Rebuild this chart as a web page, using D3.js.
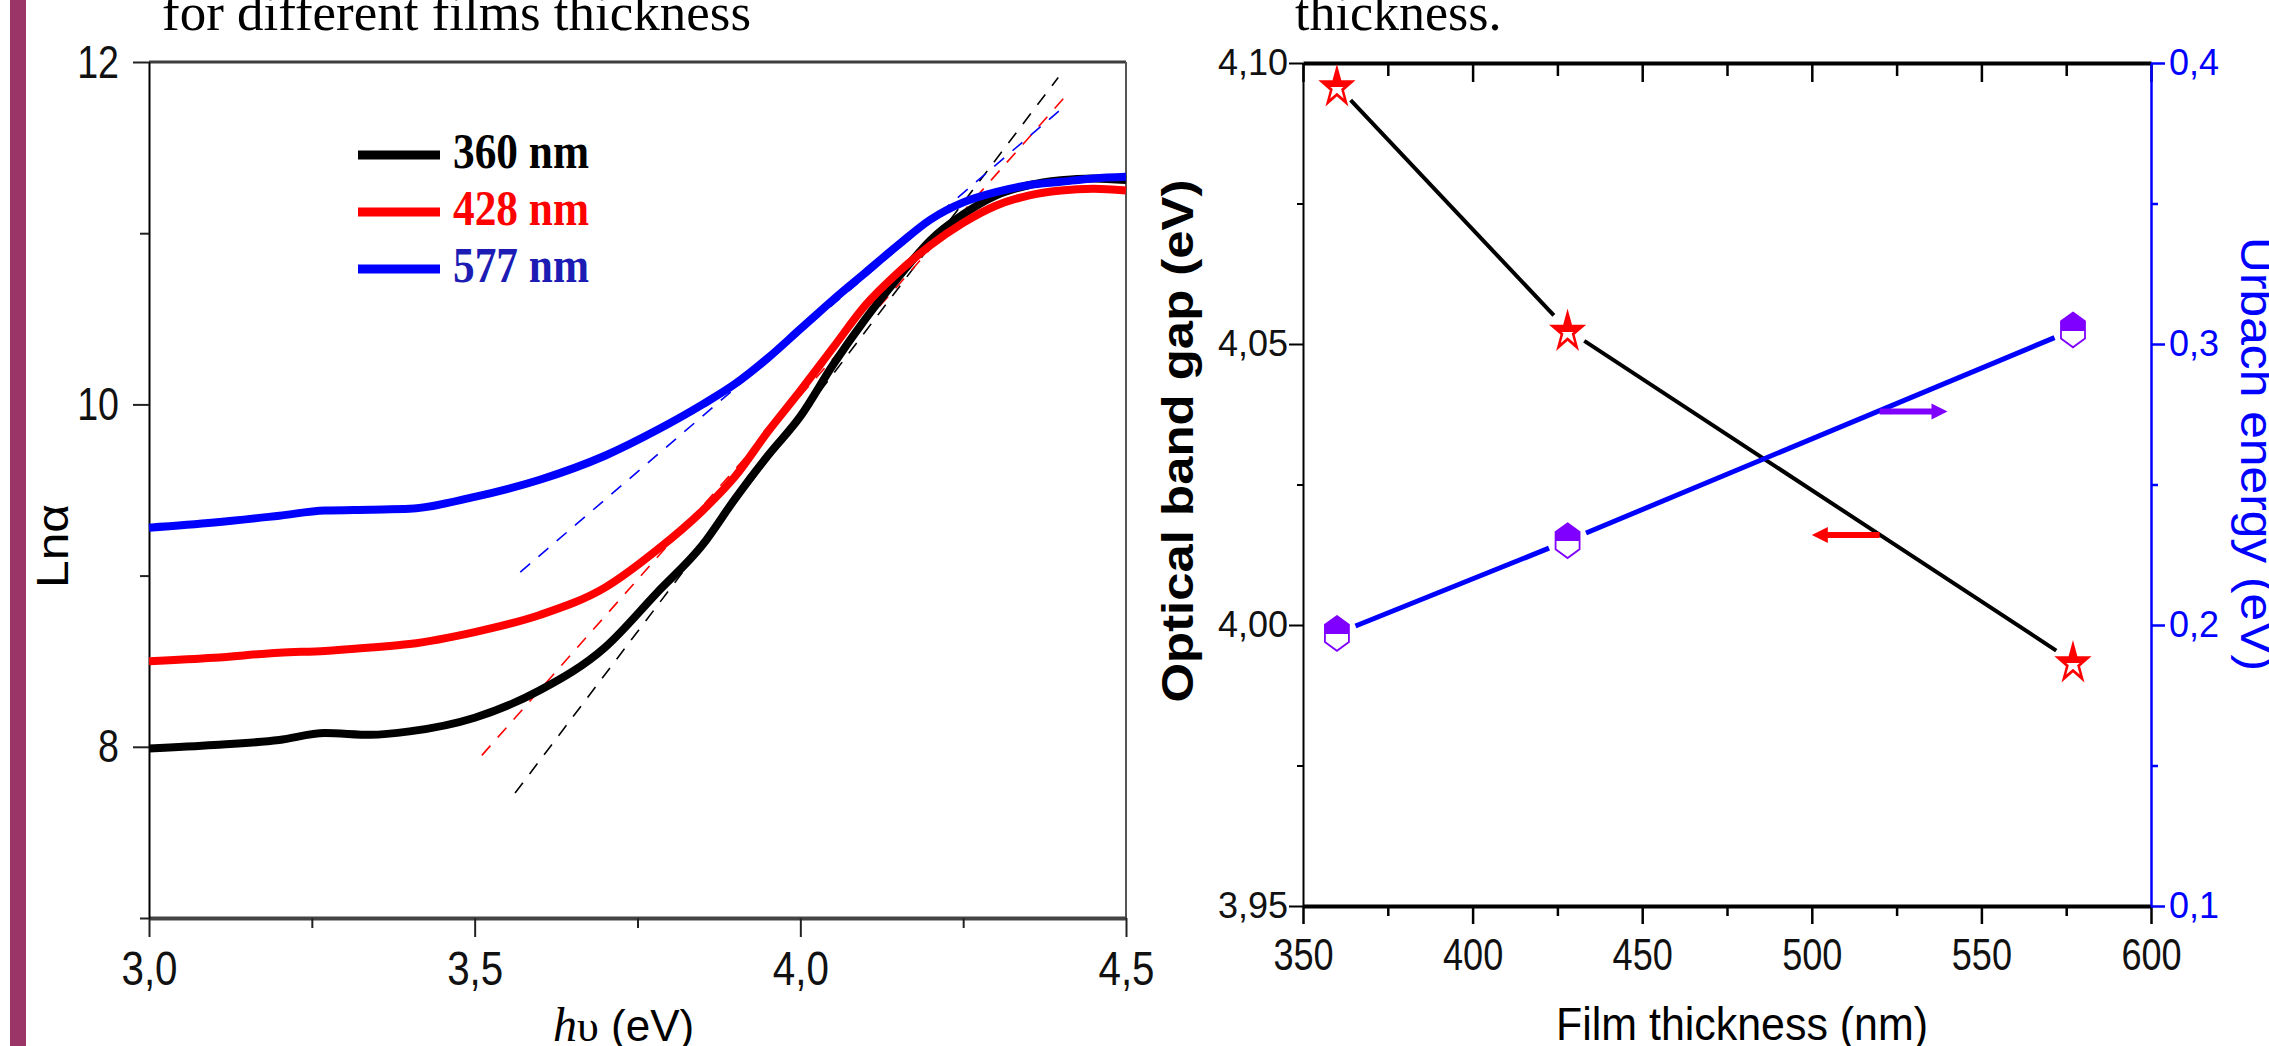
<!DOCTYPE html>
<html>
<head>
<meta charset="utf-8">
<script src="https://cdn.jsdelivr.net/npm/d3@7"></script>
<style>
  html, body { margin: 0; padding: 0; background: #ffffff; overflow: hidden; }
  svg { display: block; }
</style>
</head>
<body>
<svg id="fig" width="2269" height="1046"></svg>
<script>
// ---- Absorption edge: ln(alpha) against photon energy for three film thicknesses ----
const photonEnergy = [3.00, 3.10, 3.20, 3.27, 3.34, 3.40, 3.50, 3.60, 3.70, 3.78, 3.85, 3.90,
                      3.95, 4.00, 4.05, 4.10, 4.15, 4.20, 4.25, 4.30, 4.35, 4.40, 4.45, 4.50];
const lnAlpha360 = [7.99, 8.01, 8.04, 8.08, 8.07, 8.09, 8.17, 8.33, 8.58, 8.90, 9.18, 9.45,
                    9.70, 9.93, 10.23, 10.50, 10.74, 10.96, 11.11, 11.22, 11.28, 11.31, 11.32, 11.31];
const lnAlpha428 = [8.50, 8.52, 8.55, 8.56, 8.58, 8.60, 8.67, 8.77, 8.93, 9.15, 9.38, 9.58,
                    9.84, 10.08, 10.33, 10.58, 10.77, 10.93, 11.06, 11.16, 11.22, 11.25, 11.26, 11.25];
const lnAlpha577 = [9.28, 9.31, 9.35, 9.38, 9.385, 9.39, 9.46, 9.56, 9.70, 9.85, 10.00, 10.12,
                    10.27, 10.44, 10.61, 10.77, 10.93, 11.08, 11.18, 11.24, 11.28, 11.30, 11.32, 11.33];

// Linear fits of the Urbach tail (end points: energy, ln alpha)
const fit360 = [[3.562, 7.73], [4.396, 11.91]];
const fit428 = [[3.511, 7.95], [4.414, 11.83]];
const fit577 = [[3.570, 9.02], [4.402, 11.73]];

const legendLabels = ["360 nm", "428 nm", "577 nm"];
const energyTicks = [3.0, 3.5, 4.0, 4.5];
const energyMinorTicks = [3.25, 3.75, 4.25];
const lnTicks = [8, 10, 12];
const lnMinorTicks = [7, 9, 11];

// ---- Band gap and Urbach energy against film thickness ----
const thickness = [360, 428, 577];
const bandGap = [4.096, 4.0525, 3.9935];
const urbachEnergy = [0.197, 0.230, 0.305];
const thicknessTicks = [350, 400, 450, 500, 550, 600];
const thicknessMinorTicks = [375, 425, 475, 525, 575];
const gapTicks = [3.95, 4.00, 4.05, 4.10];
const gapMinorTicks = [3.975, 4.025, 4.075];
const urbachTicks = [0.1, 0.2, 0.3, 0.4];
const urbachMinorTicks = [0.15, 0.25, 0.35];

// Axis pointers: [from, to] thickness and the level they sit on
const gapArrowX = [520, 500];
const gapArrowLevel = 4.016;
const urbachArrowX = [520, 540];
const urbachArrowLevel = 0.276;

const comma = f => v => d3.format(f)(v).replace(".", ",");

// squeeze a text selection horizontally to a narrow face
function condense(sel, k) {
  sel.each(function () {
    const w = this.getComputedTextLength();
    d3.select(this).attr("textLength", w * k).attr("lengthAdjust", "spacingAndGlyphs");
  });
}

const svg = d3.select("#fig");
const defs = svg.append("defs");

// Side accent bar
svg.append("rect").attr("x", 10).attr("y", 0).attr("width", 16).attr("height", 1046)
  .attr("fill", "#9b3467");

// Caption fragments above the panels
svg.append("text").attr("x", 162).attr("y", 30)
  .attr("font-family", "'Liberation Serif', 'Times New Roman', serif").attr("font-size", 52)
  .attr("textLength", 589).attr("lengthAdjust", "spacingAndGlyphs")
  .text("for different films thickness");
svg.append("text").attr("x", 1295).attr("y", 30)
  .attr("font-family", "'Liberation Serif', 'Times New Roman', serif").attr("font-size", 52)
  .text("thickness.");

// =================== Left panel ===================
const x1 = d3.scaleLinear().domain([3, 4.5]).range([149, 1126]);
const y1 = d3.scaleLinear().domain([7, 12]).range([918, 62]);
const left = svg.append("g");

// frame: top and right edges
left.append("line").attr("x1", 149).attr("x2", 1126).attr("y1", y1(12)).attr("y2", y1(12))
  .attr("stroke", "#3d3d3d").attr("stroke-width", 3);
left.append("line").attr("x1", x1(4.5)).attr("x2", x1(4.5)).attr("y1", y1(12)).attr("y2", y1(7))
  .attr("stroke", "#555").attr("stroke-width", 2);

const sans = "'Liberation Sans', Arial, sans-serif";

// bottom axis
const xb = left.append("g").attr("transform", `translate(0,${y1(7)})`)
  .call(d3.axisBottom(x1).tickValues(energyTicks).tickSize(19).tickSizeOuter(0)
    .tickPadding(14).tickFormat(comma(".1f")));
xb.select(".domain").attr("stroke", "#444").attr("stroke-width", 4);
xb.selectAll(".tick line").attr("stroke", "#222").attr("stroke-width", 2);
xb.selectAll("text").attr("font-family", sans).attr("font-size", 48).attr("fill", "#111")
  .call(condense, 0.84);
const xbm = left.append("g").attr("transform", `translate(0,${y1(7)})`)
  .call(d3.axisBottom(x1).tickValues(energyMinorTicks).tickSize(10).tickSizeOuter(0).tickFormat(""));
xbm.select(".domain").remove();
xbm.selectAll(".tick line").attr("stroke", "#222").attr("stroke-width", 2);

// left axis
const yl = left.append("g").attr("transform", `translate(${x1(3)},0)`)
  .call(d3.axisLeft(y1).tickValues(lnTicks).tickSize(16).tickSizeOuter(0).tickPadding(14)
    .tickFormat(d3.format("d")));
yl.select(".domain").attr("stroke", "#000").attr("stroke-width", 2);
yl.selectAll(".tick line").attr("stroke", "#222").attr("stroke-width", 2);
yl.selectAll("text").attr("font-family", sans).attr("font-size", 47).attr("fill", "#111")
  .call(condense, 0.8);
const ylm = left.append("g").attr("transform", `translate(${x1(3)},0)`)
  .call(d3.axisLeft(y1).tickValues(lnMinorTicks).tickSize(9).tickSizeOuter(0).tickFormat(""));
ylm.select(".domain").remove();
ylm.selectAll(".tick line").attr("stroke", "#222").attr("stroke-width", 2);

// axis titles
left.append("text").attr("transform", "translate(68,546) rotate(-90)")
  .attr("text-anchor", "middle").attr("font-family", sans).attr("font-size", 44)
  .attr("textLength", 84).attr("lengthAdjust", "spacingAndGlyphs").text("Lnα");
const hvTitle = left.append("text").attr("x", 553).attr("y", 1041)
  .attr("font-family", sans).attr("font-size", 44);
hvTitle.append("tspan").attr("font-family", "'Liberation Serif', serif").attr("font-style", "italic")
  .attr("font-size", 48).text("h");
hvTitle.append("tspan").attr("font-family", "'Liberation Serif', serif").attr("font-size", 44).text("υ");
hvTitle.append("tspan").text(" (eV)");

// fit lines
const fitLine = d3.line().x(d => x1(d[0])).y(d => y1(d[1]));
[[fit360, "#000"], [fit428, "#ff0000"], [fit577, "#0000ff"]].forEach(([pts, c]) => {
  left.append("path").attr("d", fitLine(pts)).attr("fill", "none").attr("stroke", c)
    .attr("stroke-width", 1.6).attr("stroke-dasharray", "13,11");
});

// measured curves
const curve = d3.line().x(d => x1(d[0])).y(d => y1(d[1])).curve(d3.curveMonotoneX);
const seriesCurves = [
  [lnAlpha360, "#000000"],
  [lnAlpha428, "#ff0000"],
  [lnAlpha577, "#0000ff"]
];
seriesCurves.forEach(([vals, c]) => {
  left.append("path").attr("d", curve(photonEnergy.map((e, i) => [e, vals[i]])))
    .attr("fill", "none").attr("stroke", c).attr("stroke-width", 8).attr("stroke-linejoin", "round");
});

// legend
const legendColors = ["#000000", "#ff0000", "#0000ff"];
const legendTextColors = ["#000000", "#ff0000", "#1c1cb4"];
legendLabels.forEach((lab, i) => {
  const cy = 155 + i * 57;
  left.append("line").attr("x1", 358).attr("x2", 440).attr("y1", cy).attr("y2", cy)
    .attr("stroke", legendColors[i]).attr("stroke-width", 9);
  left.append("text").attr("x", 453).attr("y", cy + 13)
    .attr("font-family", "'Liberation Serif', 'Times New Roman', serif").attr("font-weight", "bold")
    .attr("font-size", 50).attr("textLength", 136).attr("lengthAdjust", "spacingAndGlyphs")
    .attr("fill", legendTextColors[i]).text(lab);
});

// =================== Right panel ===================
const x2 = d3.scaleLinear().domain([350, 600]).range([1303, 2151]);
const yL = d3.scaleLinear().domain([3.95, 4.10]).range([906, 63]);
const yR = d3.scaleLinear().domain([0.1, 0.4]).range([906, 63]);
const right = svg.append("g");

// top axis (ticks pointing into the plot)
const xt = right.append("g").attr("transform", `translate(0,${yL(4.10)})`)
  .call(d3.axisTop(x2).tickValues(thicknessTicks).tickSize(-19).tickSizeOuter(0).tickFormat(""));
xt.select(".domain").attr("stroke", "#000").attr("stroke-width", 4);
xt.selectAll(".tick line").attr("stroke", "#000").attr("stroke-width", 2.5);
const xtm = right.append("g").attr("transform", `translate(0,${yL(4.10)})`)
  .call(d3.axisTop(x2).tickValues(thicknessMinorTicks).tickSize(-13).tickSizeOuter(0).tickFormat(""));
xtm.select(".domain").remove();
xtm.selectAll(".tick line").attr("stroke", "#000").attr("stroke-width", 2.5);

// bottom axis
const xb2 = right.append("g").attr("transform", `translate(0,${yL(3.95)})`)
  .call(d3.axisBottom(x2).tickValues(thicknessTicks).tickSize(18).tickSizeOuter(0)
    .tickPadding(15).tickFormat(d3.format("d")));
xb2.select(".domain").attr("stroke", "#000").attr("stroke-width", 4);
xb2.selectAll(".tick line").attr("stroke", "#000").attr("stroke-width", 2.5);
xb2.selectAll("text").attr("font-family", sans).attr("font-size", 44).attr("fill", "#111")
  .call(condense, 0.82);
const xb2m = right.append("g").attr("transform", `translate(0,${yL(3.95)})`)
  .call(d3.axisBottom(x2).tickValues(thicknessMinorTicks).tickSize(10).tickSizeOuter(0).tickFormat(""));
xb2m.select(".domain").remove();
xb2m.selectAll(".tick line").attr("stroke", "#000").attr("stroke-width", 2.5);

// left axis: band gap
const yla = right.append("g").attr("transform", `translate(${x2(350)},0)`)
  .call(d3.axisLeft(yL).tickValues(gapTicks).tickSize(14).tickSizeOuter(0).tickPadding(1)
    .tickFormat(comma(".2f")));
yla.select(".domain").attr("stroke", "#000").attr("stroke-width", 2);
yla.selectAll(".tick line").attr("stroke", "#000").attr("stroke-width", 2);
yla.selectAll("text").attr("font-family", sans).attr("font-size", 36).attr("fill", "#111");
const ylam = right.append("g").attr("transform", `translate(${x2(350)},0)`)
  .call(d3.axisLeft(yL).tickValues(gapMinorTicks).tickSize(6).tickSizeOuter(0).tickFormat(""));
ylam.select(".domain").remove();
ylam.selectAll(".tick line").attr("stroke", "#000").attr("stroke-width", 2);

// right axis: Urbach energy
const yra = right.append("g").attr("transform", `translate(${x2(600)},0)`)
  .call(d3.axisRight(yR).tickValues(urbachTicks).tickSize(14).tickSizeOuter(0).tickPadding(4)
    .tickFormat(comma(".1f")));
yra.select(".domain").attr("stroke", "#0000ff").attr("stroke-width", 2.5);
yra.selectAll(".tick line").attr("stroke", "#0000ff").attr("stroke-width", 2.5);
yra.selectAll("text").attr("font-family", sans).attr("font-size", 36).attr("fill", "#0000ff");
const yram = right.append("g").attr("transform", `translate(${x2(600)},0)`)
  .call(d3.axisRight(yR).tickValues(urbachMinorTicks).tickSize(7).tickSizeOuter(0).tickFormat(""));
yram.select(".domain").remove();
yram.selectAll(".tick line").attr("stroke", "#0000ff").attr("stroke-width", 2.5);

// axis titles
right.append("text").attr("transform", "translate(1193,441) rotate(-90)")
  .attr("text-anchor", "middle").attr("font-family", sans).attr("font-weight", "bold")
  .attr("font-size", 44).attr("textLength", 523).attr("lengthAdjust", "spacingAndGlyphs")
  .text("Optical band gap (eV)");
right.append("text").attr("transform", "translate(2241,454) rotate(90)")
  .attr("text-anchor", "middle").attr("font-family", sans).attr("font-size", 46)
  .attr("fill", "#0000ff").attr("textLength", 434).attr("lengthAdjust", "spacingAndGlyphs")
  .text("Urbach energy (eV)");
right.append("text").attr("x", 1742).attr("y", 1040).attr("text-anchor", "middle")
  .attr("font-family", sans).attr("font-size", 47).attr("textLength", 372)
  .attr("lengthAdjust", "spacingAndGlyphs").text("Film thickness (nm)");

// connecting lines with a gap around each marker
function gappedSegments(g, xs, ys, color, width, gap) {
  for (let i = 0; i < xs.length - 1; i++) {
    const ax = xs[i], ay = ys[i], bx = xs[i + 1], by = ys[i + 1];
    const len = Math.hypot(bx - ax, by - ay), ux = (bx - ax) / len, uy = (by - ay) / len;
    g.append("line")
      .attr("x1", ax + ux * gap).attr("y1", ay + uy * gap)
      .attr("x2", bx - ux * gap).attr("y2", by - uy * gap)
      .attr("stroke", color).attr("stroke-width", width);
  }
}
gappedSegments(right, thickness.map(x2), bandGap.map(yL), "#000", 4, 20);
gappedSegments(right, thickness.map(x2), urbachEnergy.map(yR), "#0000ff", 5, 20);

// half-filled marker fills
function halfFill(id, color, stop) {
  const gr = defs.append("linearGradient").attr("id", id)
    .attr("x1", 0).attr("y1", 0).attr("x2", 0).attr("y2", 1);
  gr.append("stop").attr("offset", 0).attr("stop-color", color);
  gr.append("stop").attr("offset", stop).attr("stop-color", color);
  gr.append("stop").attr("offset", stop).attr("stop-color", "#ffffff");
  gr.append("stop").attr("offset", 1).attr("stop-color", "#ffffff");
}
halfFill("starHalf", "#ff0000", 0.55);
halfFill("hexHalf", "#8000ff", 0.52);

// band gap: stars
const star = d3.symbol(d3.symbolStar).size(270);
right.selectAll(".gapMark").data(thickness).join("path")
  .attr("class", "gapMark")
  .attr("d", star)
  .attr("transform", (t, i) => `translate(${x2(t)},${yL(bandGap[i]) + 2}) scale(1,1.2)`)
  .attr("fill", "url(#starHalf)").attr("stroke", "#ff0000").attr("stroke-width", 2.5);

// Urbach energy: tall hexagons
const tallHex = {
  draw(ctx, size) {
    const w = Math.sqrt(size) / 2, h = w * 1.45, s = w * 0.72;
    ctx.moveTo(0, -h);
    ctx.lineTo(w, -s);
    ctx.lineTo(w, s);
    ctx.lineTo(0, h);
    ctx.lineTo(-w, s);
    ctx.lineTo(-w, -s);
    ctx.closePath();
  }
};
right.selectAll(".urbachMark").data(thickness).join("path")
  .attr("class", "urbachMark")
  .attr("d", d3.symbol(tallHex).size(576))
  .attr("transform", (t, i) => `translate(${x2(t)},${yR(urbachEnergy[i])})`)
  .attr("fill", "url(#hexHalf)").attr("stroke", "#8000ff").attr("stroke-width", 1.8);

// axis pointers
function pointer(g, xFrom, xTo, yv, color) {
  const dir = Math.sign(xTo - xFrom);
  g.append("line").attr("x1", xFrom).attr("x2", xTo - dir * 12).attr("y1", yv).attr("y2", yv)
    .attr("stroke", color).attr("stroke-width", 6);
  g.append("path")
    .attr("d", d3.line()([[xTo, yv], [xTo - dir * 16, yv - 8], [xTo - dir * 16, yv + 8]]) + "Z")
    .attr("fill", color);
}
pointer(right, x2(gapArrowX[0]), x2(gapArrowX[1]), yL(gapArrowLevel), "#ff0000");
pointer(right, x2(urbachArrowX[0]), x2(urbachArrowX[1]), yR(urbachArrowLevel), "#8000ff");
</script>
</body>
</html>
